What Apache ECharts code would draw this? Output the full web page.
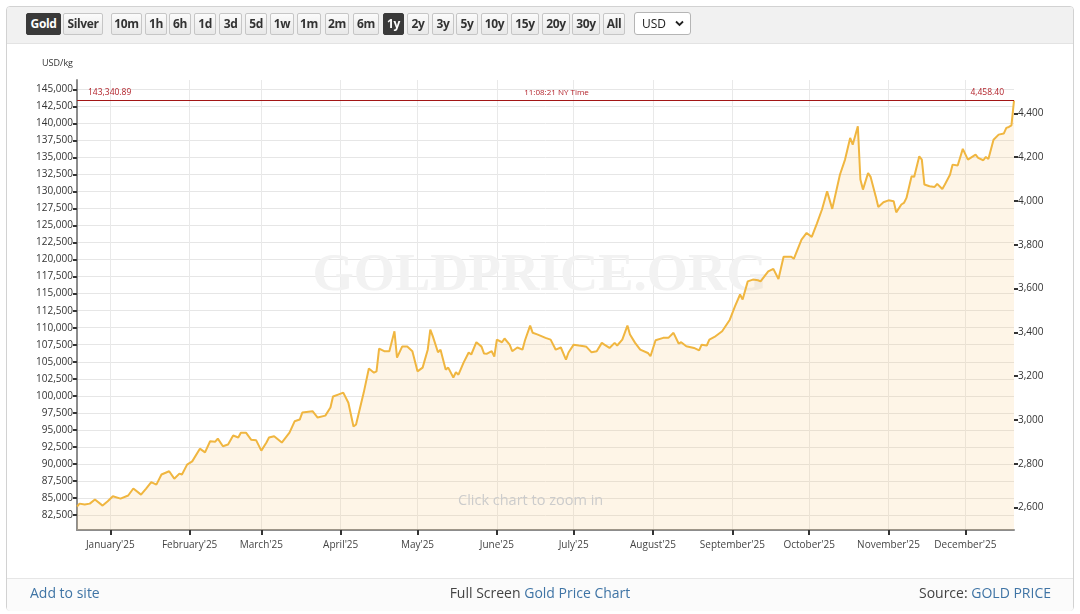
<!DOCTYPE html>
<html><head><meta charset="utf-8">
<script src="https://cdn.jsdelivr.net/npm/echarts@6/dist/echarts.min.js"></script>
<style>
html,body{margin:0;padding:0;background:#fff;}
#wrap{position:relative;width:1080px;height:614px;overflow:hidden;font-family:'Open Sans',sans-serif;}
#frame{position:absolute;left:6px;top:6px;width:1068px;height:605px;border:1px solid #d2d2d2;border-radius:4px;box-sizing:border-box;}
#bar{position:absolute;left:7px;top:7px;width:1066px;height:36px;background:#f1f1f1;border-bottom:1px solid #e3e3e3;border-radius:3px 3px 0 0;}
#chart{position:absolute;left:0;top:0;width:1080px;height:614px;}
.btn{position:absolute;top:13px;height:22px;box-sizing:border-box;border:1px solid #c6c6c6;border-radius:2px;background:linear-gradient(#fbfbfb,#e8e8e8);font-size:12px;font-weight:700;color:#333;line-height:20px;text-align:center;letter-spacing:-0.4px;}
.btn.on{background:#3a3a3a;border-color:#3a3a3a;color:#fff;}
#sel{position:absolute;left:634px;top:12px;width:57px;height:23px;box-sizing:border-box;border:1px solid #b5b5b5;border-radius:3px;background:#fff;font-size:12px;color:#222;line-height:21px;padding-left:7px;}
#sel svg{position:absolute;right:6px;top:7px;}
#foot{position:absolute;left:7px;top:578px;width:1066px;height:32px;background:#fbfbfb;border-top:1px solid #e6e6e6;border-radius:0 0 3px 3px;}
.ft{position:absolute;top:583px;font-size:14px;line-height:20px;color:#444;white-space:nowrap;}
.lnk{color:#3f74a5;}
</style></head>
<body>
<div id="wrap">
  <div id="frame"></div>
  <div id="bar"></div>
  <div id="foot"></div>
  <div id="chart"></div>
  <div id="buttons"></div>
  <div id="sel">USD<svg width="9" height="7" viewBox="0 0 9 7"><path d="M1 1.5 L4.5 5 L8 1.5" stroke="#222" stroke-width="1.8" fill="none"/></svg></div>
  <div class="ft" style="left:30px;"><span class="lnk">Add to site</span></div>
  <div class="ft" style="left:0;width:1080px;text-align:center;"><span>Full Screen </span><span class="lnk">Gold Price Chart</span></div>
  <div class="ft" style="right:29px;"><span>Source: </span><span class="lnk">GOLD PRICE</span></div>
</div>
<script>
// ---------------- DATA ----------------
const dates = [
'2024-12-19','2024-12-20','2024-12-22','2024-12-24','2024-12-26','2024-12-29','2024-12-31',
'2025-01-02','2025-01-05','2025-01-08','2025-01-10','2025-01-13','2025-01-15','2025-01-17','2025-01-19','2025-01-21','2025-01-24','2025-01-26','2025-01-28','2025-01-29','2025-01-31',
'2025-02-02','2025-02-05','2025-02-07','2025-02-09','2025-02-11','2025-02-12','2025-02-14','2025-02-16','2025-02-18','2025-02-20','2025-02-21','2025-02-23','2025-02-25','2025-02-27',
'2025-03-01','2025-03-03','2025-03-04','2025-03-06','2025-03-09','2025-03-12','2025-03-14','2025-03-16','2025-03-17','2025-03-21','2025-03-23','2025-03-26','2025-03-28','2025-03-29','2025-03-31',
'2025-04-02','2025-04-04','2025-04-06','2025-04-07','2025-04-10','2025-04-12','2025-04-14','2025-04-15','2025-04-16','2025-04-18','2025-04-20','2025-04-22','2025-04-23','2025-04-25','2025-04-27','2025-04-29',
'2025-05-01','2025-05-03','2025-05-05','2025-05-06','2025-05-07','2025-05-09','2025-05-10','2025-05-12','2025-05-13','2025-05-15','2025-05-16','2025-05-17','2025-05-19','2025-05-21','2025-05-22','2025-05-24','2025-05-26','2025-05-27','2025-05-28','2025-05-30','2025-05-31',
'2025-06-01','2025-06-03','2025-06-04','2025-06-06','2025-06-07','2025-06-09','2025-06-11','2025-06-12','2025-06-14','2025-06-15','2025-06-17','2025-06-20','2025-06-22','2025-06-24','2025-06-26','2025-06-28','2025-06-29',
'2025-07-01','2025-07-03','2025-07-05','2025-07-06','2025-07-08','2025-07-10','2025-07-12','2025-07-13','2025-07-15','2025-07-17','2025-07-18','2025-07-20','2025-07-22','2025-07-23','2025-07-25','2025-07-27','2025-07-30','2025-07-31',
'2025-08-02','2025-08-05','2025-08-07','2025-08-09','2025-08-11','2025-08-12','2025-08-14','2025-08-17','2025-08-19','2025-08-20','2025-08-22','2025-08-23','2025-08-25','2025-08-28','2025-08-31',
'2025-09-02','2025-09-04','2025-09-05','2025-09-07','2025-09-09','2025-09-11','2025-09-12','2025-09-15','2025-09-17','2025-09-19','2025-09-21','2025-09-24','2025-09-25','2025-09-28','2025-09-30',
'2025-10-02','2025-10-04','2025-10-06','2025-10-08','2025-10-10','2025-10-13','2025-10-15','2025-10-17','2025-10-18','2025-10-20','2025-10-21','2025-10-22','2025-10-24','2025-10-25','2025-10-27','2025-10-28','2025-10-30',
'2025-11-01','2025-11-03','2025-11-04','2025-11-06','2025-11-07','2025-11-08','2025-11-10','2025-11-11','2025-11-13','2025-11-14','2025-11-15','2025-11-17','2025-11-19','2025-11-20','2025-11-22','2025-11-23','2025-11-25','2025-11-26','2025-11-28','2025-11-30',
'2025-12-02','2025-12-05','2025-12-06','2025-12-08','2025-12-09','2025-12-10','2025-12-12','2025-12-14','2025-12-16','2025-12-17','2025-12-18','2025-12-19','2025-12-20'
];
const pricesOz = [
2605,2618,2614,2618,2637,2609,2629,
2652,2641,2655,2687,2659,2687,2716,2705,2751,2766,2732,2755,2751,2796,
2811,2869,2852,2903,2901,2915,2880,2888,2929,2920,2942,2942,2910,2907,
2860,2897,2920,2926,2897,2942,2994,3002,3034,3040,3011,3020,3057,3107,3116,
3125,3079,2970,2979,3125,3235,3216,3222,3326,3314,3314,3405,3285,3335,3335,3314,
3222,3239,3321,3413,3382,3309,3321,3230,3239,3194,3218,3207,3262,3308,3299,3355,3335,3303,3302,3314,3289,
3367,3355,3372,3344,3314,3331,3321,3364,3431,3398,3390,3375,3367,3321,3331,3276,3308,
3344,3340,3337,3334,3309,3314,3352,3344,3329,3352,3340,3367,3431,3390,3352,3321,3306,3291,
3364,3375,3375,3398,3349,3355,3337,3329,3318,3344,3340,3367,3379,3405,3458,
3519,3573,3550,3633,3641,3638,3633,3679,3690,3644,3745,3745,3736,3824,3854,
3836,3897,3961,4044,3964,4120,4189,4288,4257,4341,4098,4052,4128,4110,4021,3973,3994,
4003,3999,3948,3984,3991,4014,4113,4110,4204,4189,4075,4067,4064,4078,4055,4075,4120,4166,4162,4238,
4189,4212,4197,4186,4201,4192,4280,4303,4308,4334,4338,4345,4458.40
];
const OZ_PER_KG = 32.15074657;
const lastPriceOz = 4458.40;
const priceTimeLabel = '11:08:21 NY Time';
const kgTicks = [82500,85000,87500,90000,92500,95000,97500,100000,102500,105000,107500,110000,112500,115000,117500,120000,122500,125000,127500,130000,132500,135000,137500,140000,142500,145000];
const ozTicks = [2600,2800,3000,3200,3400,3600,3800,4000,4200,4400];
const monthStarts = ['2025-01-01','2025-02-01','2025-03-01','2025-04-01','2025-05-01','2025-06-01','2025-07-01','2025-08-01','2025-09-01','2025-10-01','2025-11-01','2025-12-01'];
const monthLabels = ["January'25","February'25","March'25","April'25","May'25","June'25","July'25","August'25","September'25","October'25","November'25","December'25"];
const kgAxisMin = 80300, kgAxisMax = 146365;
const xStart = '2024-12-19', xEnd = '2025-12-20';
const leftUnit = 'USD/kg';
const buttons = [['Gold',26,35,1],['Silver',63,40,0],['10m',111,31,0],['1h',145,22,0],['6h',169,22,0],['1d',194,22,0],['3d',219,23,0],['5d',245,22,0],['1w',270,24,0],['1m',297,24,0],['2m',325,24,0],['6m',353,26,0],['1y',383,21,1],['2y',407,22,0],['3y',432,22,0],['5y',456,22,0],['10y',481,27,0],['15y',511,28,0],['20y',542,28,0],['30y',572,28,0],['All',603,22,0]];

// ---------------- toolbar ----------------
const bw = document.getElementById('buttons');
buttons.forEach(b => {
  const d = document.createElement('div');
  d.className = 'btn' + (b[3] ? ' on' : '');
  d.style.left = b[1] + 'px'; d.style.width = b[2] + 'px';
  d.textContent = b[0];
  bw.appendChild(d);
});

// ---------------- chart ----------------
function ts(s){ const p = s.split('-').map(Number); return new Date(p[0], p[1]-1, p[2]).getTime(); }
const fmt = v => Number(v).toLocaleString('en-US');
const monthTs = monthStarts.map(ts);
const seriesData = dates.map((d, i) => [ts(d), pricesOz[i]]);
const lastKgText = (lastPriceOz * OZ_PER_KG).toLocaleString('en-US', {minimumFractionDigits:2, maximumFractionDigits:2});
const lastOzText = lastPriceOz.toLocaleString('en-US', {minimumFractionDigits:2, maximumFractionDigits:2});
const FONT = 'Open Sans';
function monthLabel(v){
  let best = 0, bd = Infinity;
  monthTs.forEach((t, i) => { const d = Math.abs(t - v); if (d < bd) { bd = d; best = i; } });
  return monthLabels[best];
}

const chart = echarts.init(document.getElementById('chart'), null, {renderer:'canvas'});
chart.setOption({
  animation:false,
  grid:{left:77, right:66, top:80, bottom:84, containLabel:false},
  xAxis:{
    type:'value', min:ts(xStart), max:ts(xEnd),
    axisLine:{show:true, onZero:false, lineStyle:{color:'#8c8c8c', width:2}},
    axisTick:{show:true, customValues:monthTs, length:5, lineStyle:{color:'#333', width:2}},
    axisLabel:{customValues:monthTs, formatter:monthLabel, color:'#444', fontSize:10, fontFamily:FONT, margin:10, hideOverlap:false},
    splitLine:{show:true, lineStyle:{color:'#e9e9e9', width:1}}
  },
  yAxis:[
    {
      type:'value', position:'left', min:kgAxisMin, max:kgAxisMax,
      name:leftUnit, nameLocation:'end', nameGap:12,
      nameTextStyle:{align:'right', padding:[0,4,0,0], color:'#333', fontSize:9, fontFamily:FONT},
      axisLine:{show:true, lineStyle:{color:'#8c8c8c', width:2}},
      axisTick:{show:true, customValues:kgTicks, length:4, lineStyle:{color:'#333', width:2}},
      axisLabel:{customValues:kgTicks, formatter:fmt, color:'#333', fontSize:10, fontFamily:FONT, margin:4},
      splitLine:{show:true, lineStyle:{color:'#e6e6e6', width:1}}
    },
    {
      type:'value', position:'right', min:kgAxisMin/OZ_PER_KG, max:kgAxisMax/OZ_PER_KG,
      axisLine:{show:false},
      axisTick:{show:true, customValues:ozTicks, length:4, lineStyle:{color:'#333', width:2}},
      axisLabel:{customValues:ozTicks, formatter:fmt, color:'#333', fontSize:10, fontFamily:FONT, margin:4},
      splitLine:{show:false}
    }
  ],
  graphic:[
    {type:'text', left:'center', top:250, z:1, silent:true,
     style:{text:'GOLDPRICE.ORG', font:'bold 53px "Liberation Serif"', fill:'#f2f2f2'}},
    {type:'text', left:458, top:493, z:100, silent:true,
     style:{text:'Click chart to zoom in', font:'14.5px "Open Sans"', fill:'#cccccc'}}
  ],
  series:[{
    type:'line', yAxisIndex:1, data:seriesData, symbol:'none', showSymbol:false,
    lineStyle:{color:'#f0b640', width:2},
    areaStyle:{color:'rgba(250,200,120,0.25)'},
    z:3,
    markLine:{
      silent:true, symbol:'none', animation:false,
      lineStyle:{color:'#a31616', width:1, type:'solid'},
      label:{color:'#b3232b', fontSize:8.5, fontFamily:FONT, distance:4},
      data:[
        {yAxis:lastPriceOz, label:{position:'insideStartTop', formatter:lastKgText, padding:[0,0,0,7]}},
        {yAxis:lastPriceOz, label:{position:'insideMiddleTop', formatter:priceTimeLabel, padding:[0,0,0,22], fontSize:8}},
        {yAxis:lastPriceOz, label:{position:'insideEndTop', formatter:lastOzText, padding:[0,6,0,0]}}
      ]
    }
  }]
});
</script>
</body></html>
